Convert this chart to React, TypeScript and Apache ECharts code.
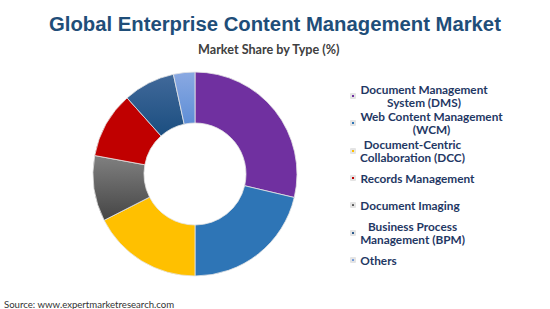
import React, { useEffect, useRef } from "react";
import * as echarts from "echarts";

const titleText = "Global Enterprise Content Management Market";
const subtitleText = "Market Share by Type (%)";
const sourceText = "Source: www.expertmarketresearch.com";

// pie order (clockwise from 12 o'clock)
const sliceNames = [
  "Document Management System (DMS)",
  "Web Content Management (WCM)",
  "Document-Centric Collaboration (DCC)",
  "Document Imaging",
  "Records Management",
  "Business Process Management (BPM)",
  "Others",
];
const sliceValues = [28.7, 21.3, 17.5, 10.4, 10.5, 8.2, 3.4];

// legend order
const legendOrder = [
  "Document Management System (DMS)",
  "Web Content Management (WCM)",
  "Document-Centric Collaboration (DCC)",
  "Records Management",
  "Document Imaging",
  "Business Process Management (BPM)",
  "Others",
];
const legendLines = [
  ["Document Management", "System (DMS)"],
  ["Web Content Management", "(WCM)"],
  ["Document-Centric", "Collaboration (DCC)"],
  ["Records Management"],
  ["Document Imaging"],
  ["Business Process", "Management (BPM)"],
  ["Others"],
];

const grad = (a: string, b: string) =>
  new echarts.graphic.LinearGradient(0, 0, 0, 1, [
    { offset: 0, color: a },
    { offset: 1, color: b },
  ]);

const sliceColors = [
  "#7030A0",
  "#2E75B6",
  "#FFC000",
  grad("#808080", "#454545"),
  "#C00000",
  grad("#41699A", "#1B4E80"),
  grad("#8AA9E2", "#5E8ED6"),
];

const LEG_FONT = 11.8;
const LEG_LH = 13.5;
const LEG_COLOR = "#1F3864";
const LEG_FAMILY = "Lato";
const legendCentersY = [96, 123, 151, 178, 205, 233, 260];

export default function App() {
  const ref = useRef<HTMLDivElement>(null);
  useEffect(() => {
    if (!ref.current) return;
    const chart = echarts.init(ref.current, undefined, { renderer: "svg" });
    const ctx = document.createElement("canvas").getContext("2d")!;
    ctx.font = `bold ${LEG_FONT}px ${LEG_FAMILY}`;
    const tokenBase = {
      fontFamily: LEG_FAMILY,
      fontWeight: "bold",
      fontSize: LEG_FONT,
      color: LEG_COLOR,
      lineHeight: LEG_LH,
    };
    const legends = legendOrder.map((name, i) => {
      const lines = legendLines[i];
      const w = Math.ceil(Math.max(...lines.map((l) => ctx.measureText(l).width)));
      const h = lines.length * LEG_LH;
      return {
        orient: "vertical",
        left: 350,
        top: legendCentersY[i] - h / 2,
        padding: 0,
        itemWidth: 4,
        itemHeight: 4,
        itemGap: 0,
        icon: "rect",
        data: [name],
        textStyle: {
          ...tokenBase,
          rich: {
            t: { ...tokenBase, width: w, align: "center" },
          },
        },
        formatter: () => lines.map((l) => "{t|" + l + "}").join("\n"),
      };
    });
    chart.setOption({
      animation: false,
      backgroundColor: "#ffffff",
      title: [
        {
          text: titleText,
          left: 44,
          top: 9,
          textStyle: {
            fontFamily: "Liberation Sans",
            fontWeight: "bold",
            fontSize: 20.3,
            color: "#1F4E79",
          },
        },
        {
          text: subtitleText,
          left: 193,
          top: 37.5,
          textStyle: {
            fontFamily: "Lato",
            fontWeight: "bold",
            fontSize: 12.6,
            color: "#404040",
          },
        },
        {
          text: sourceText,
          left: -1,
          top: 294,
          textStyle: {
            fontFamily: "Lato",
            fontWeight: "normal",
            fontSize: 9.6,
            color: "#333333",
          },
        },
      ],
      legend: legends,
      series: [
        {
          type: "pie",
          center: [195, 174],
          radius: [51, 102],
          startAngle: 90,
          clockwise: true,
          label: { show: false },
          labelLine: { show: false },
          itemStyle: { borderColor: "#e4e4e4", borderWidth: 0.8 },
          emphasis: { disabled: true },
          data: sliceNames.map((n, i) => ({
            name: n,
            value: sliceValues[i],
            itemStyle: { color: sliceColors[i] },
          })),
        },
      ],
    });
    return () => chart.dispose();
  }, []);
  return (
    <div
      ref={ref}
      style={{ position: "fixed", left: 0, top: 0, width: 550, height: 309 }}
    />
  );
}
